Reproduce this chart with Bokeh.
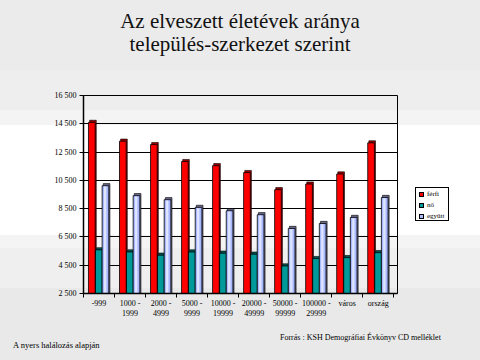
from bokeh.plotting import figure
from bokeh.layouts import column, row
from bokeh.models import (ColumnDataSource, Range1d, FixedTicker, Div, GlobalInlineStyleSheet)
from bokeh.transform import dodge
from bokeh.embed import file_html
from bokeh.resources import INLINE

# ---- data ----
categories = ["-999", "1000 -\n1999", "2000 -\n4999", "5000 -\n9999", "10000 -\n19999",
              "20000 -\n49999", "50000 -\n99999", "100000 -\n29999", "város", "ország"]
ferfi = [14600, 13270, 13030, 11830, 11540, 11050, 9840, 10240, 10950, 13150]
no = [5590, 5440, 5210, 5440, 5350, 5280, 4450, 4970, 5040, 5390]
egyutt = [10120, 9420, 9130, 8590, 8350, 8070, 7100, 7450, 7880, 9290]
series_names = ["férfi", "nő", "együtt"]
series_colors = ["#ff0000", "#009999", "#a8b8ff"]
y_ticks = [2500, 4500, 6500, 8500, 10500, 12500, 14500, 16500]
title_lines = ["Az elveszett életévek aránya", "település-szerkezet szerint"]
note_left = "A nyers halálozás alapján"
note_right = "Forrás : KSH Demográfiai Évkönyv CD melléklet"

SERIF = "Liberation Serif"
idx = list(range(len(categories)))
src = ColumnDataSource(dict(idx=idx, ferfi=ferfi, no=no, egyutt=egyutt))

bg = GlobalInlineStyleSheet(css="""
html { background: #e9e9e9 linear-gradient(to bottom,
  #ebebeb 0px, #ebebeb 70px, #eeeeee 70px, #eeeeee 110px, #f4f4f4 110px, #f4f4f4 125px,
  #ffffff 125px, #ffffff 235px, #f4f4f4 235px, #f4f4f4 248px, #efefef 248px, #efefef 288px,
  #e9e9e9 288px, #e9e9e9 100%) no-repeat; min-height: 100%; }
body { background: transparent; margin: 0; overflow: hidden; }
""")

p = figure(width=400, height=255, output_backend="svg", toolbar_location=None,
           x_range=Range1d(0, 10.12), y_range=Range1d(2500, 16500),
           min_border_left=83, min_border_right=3, min_border_top=25, min_border_bottom=32)
p.border_fill_color = None
p.background_fill_color = None
p.outline_line_color = "black"
p.outline_line_width = 1
p.stylesheets = [bg]

BASE = 2500
W = 0.215
DX = 0.036
DY = 150
specs = [("ferfi", 0.5 - 0.232, series_colors[0], "#9a0000"),
         ("no", 0.5 - 0.006, series_colors[1], "#005a5a"),
         ("egyutt", 0.5 + 0.208, series_colors[2], "#6a6a8a")]
for field, off, col, side in specs:
    # depth (side/top) behind the bar
    p.vbar(x=dodge("idx", off + DX, range=p.x_range), width=W, bottom=BASE,
           top=dodge(field, DY), source=src, fill_color=side,
           line_color="black", line_width=0.6)
    p.vbar(x=dodge("idx", off, range=p.x_range), width=W, bottom=BASE, top=field,
           source=src, fill_color=col, line_color="black", line_width=0.8)
    if field == "egyutt":
        p.vbar(x=dodge("idx", off - 0.01, range=p.x_range), width=W * 0.35, bottom=BASE + 60,
               top=dodge(field, -60), source=src, fill_color="#dfe5ff", line_color=None)

# axes
p.yaxis.ticker = FixedTicker(ticks=y_ticks)
p.yaxis.major_label_overrides = {t: f"{t:,}".replace(",", " ") for t in y_ticks}
p.yaxis.major_tick_in = 0
p.yaxis.major_tick_out = 4
p.yaxis.minor_tick_out = 0
p.yaxis.minor_tick_in = 0
p.yaxis.axis_line_color = "black"
p.yaxis.axis_line_width = 1.5
p.yaxis.major_label_text_font = SERIF
p.yaxis.major_label_text_font_size = "8px"
p.yaxis.major_label_text_color = "black"
p.yaxis.major_label_standoff = 3

centers = [i + 0.5 for i in idx]
p.xaxis.ticker = FixedTicker(ticks=centers, minor_ticks=list(range(len(categories) + 1)))
p.xaxis.major_label_overrides = {c: lab for c, lab in zip(centers, categories)}
p.xaxis.major_tick_in = 0
p.xaxis.major_tick_out = 0
p.xaxis.minor_tick_in = 0
p.xaxis.minor_tick_out = 4
p.xaxis.minor_tick_line_color = "black"
p.xaxis.axis_line_color = "black"
p.xaxis.axis_line_width = 1.5
p.xaxis.major_label_text_font = SERIF
p.xaxis.major_label_text_font_size = "8px"
p.xaxis.major_label_text_color = "black"
p.xaxis.major_label_standoff = 1

p.xgrid.grid_line_color = None
p.ygrid.grid_line_color = "black"
p.ygrid.grid_line_width = 1
p.ygrid.grid_line_alpha = 1

# title (HTML text)
title_div = Div(width=480, height=70, margin=0, text=(
    f'<div style="width:480px;padding-top:10px;text-align:center;font-family:\'{SERIF}\';'
    f'font-size:21px;line-height:23px;color:#111;">{title_lines[0]}<br>{title_lines[1]}</div>'))

# legend (HTML box to the right of the plot)
items = "".join(
    f'<div style="display:flex;align-items:center;height:11px;padding-left:3px;'
    f'white-space:nowrap;">'
    f'<span style="display:inline-block;width:5px;height:5px;background:{c};'
    f'border:1px solid #000;margin-right:3px;flex:none;"></span>{n}</div>'
    for n, c in zip(series_names, series_colors))
legend_div = Div(width=80, height=255, margin=0, text=(
    f'<div style="margin-left:15px;margin-top:117px;display:inline-block;height:34px;'
    f'border:1px solid #000;background:#fff;padding:1px 3px 0 0;font-family:\'{SERIF}\';'
    f'font-size:7px;line-height:11px;color:#000;">{items}</div>'))

# notes below the chart
footer_div = Div(width=480, height=35, margin=0, text=(
    f'<div style="position:relative;width:480px;height:35px;font-family:\'{SERIF}\';color:#000;">'
    f'<span style="position:absolute;left:280px;top:8px;font-size:8px;line-height:10px;'
    f'white-space:nowrap;">{note_right}</span>'
    f'<span style="position:absolute;left:13px;top:15px;font-size:8.5px;line-height:10px;'
    f'white-space:nowrap;">{note_left}</span></div>'))

layout = column(title_div, row(p, legend_div, spacing=0), footer_div, spacing=0)
open("out.html", "w").write(file_html(layout, INLINE))
